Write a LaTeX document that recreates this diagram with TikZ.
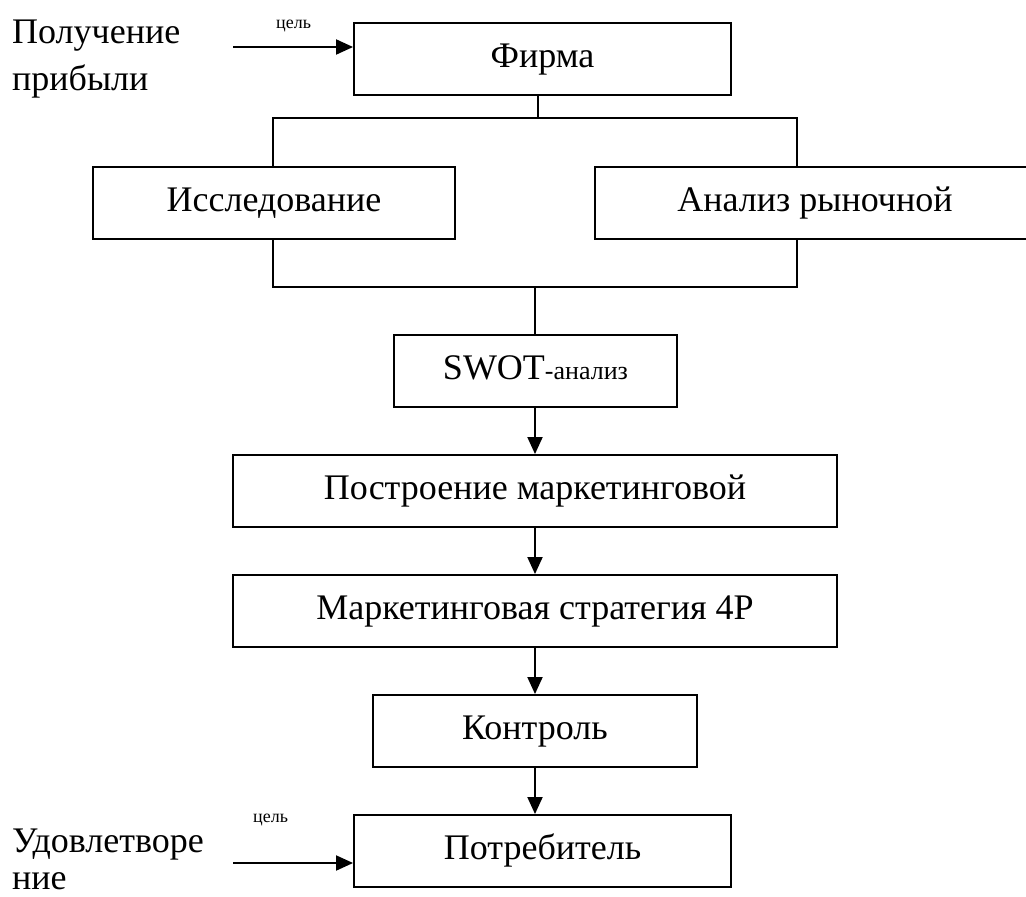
\documentclass[tikz,border=0pt]{standalone}
\usepackage{fontspec}
\setmainfont{Liberation Serif}
\usetikzlibrary{arrows.meta}
\begin{document}
\begin{tikzpicture}[x=1pt,y=-1pt,
  box/.style={draw,line width=1.9pt,minimum height=72pt,inner sep=0pt,
    text height=24pt,text depth=8pt,font=\fontsize{36}{46}\selectfont},
  conn/.style={line width=1.9pt},
  arr/.style={line width=1.9pt,-{Triangle[width=15pt,length=17pt]}},
  lbl/.style={font=\fontsize{36}{46}\selectfont,inner sep=0pt,anchor=base west},
  small/.style={font=\fontsize{18}{20}\selectfont,inner sep=0pt,anchor=base west}]
\useasboundingbox (0,0) rectangle (1026,897);

\node[box,minimum width=377pt] (firma) at (542.5,59) {Фирма};
\node[box,minimum width=362pt] (issl) at (274,203) {Исследование};
\node[box,minimum width=440pt] (anal) at (815,203) {Анализ рыночной};
\node[box,minimum width=283pt] (swot) at (535.5,371) {SWOT{\fontsize{26}{30}\selectfont-анализ}};
\node[box,minimum width=604pt] (postr) at (535,491) {Построение маркетинговой};
\node[box,minimum width=604pt] (strat) at (535,611) {Маркетинговая стратегия 4P};
\node[box,minimum width=324pt] (kontr) at (535,731) {Контроль};
\node[box,minimum width=377pt] (potr) at (542.5,851) {Потребитель};

\coordinate (b1) at (538,118);
\coordinate (tl) at (273,118);
\coordinate (tr) at (797,118);
\coordinate (bl) at (273,287);
\coordinate (br) at (797,287);
\coordinate (b2) at (535,287);
\coordinate (ax) at (535,0);

\draw[conn] (firma.south -| b1) -- (b1);
\draw[conn] (issl.north -| tl) -- (tl) -- (tr) -- (anal.north -| tr);
\draw[conn] (issl.south -| bl) -- (bl) -- (br) -- (anal.south -| br);
\draw[conn] (b2) -- (swot.north -| b2);

\draw[arr] (swot.south -| ax) -- (postr.north -| ax);
\draw[arr] (postr.south -| ax) -- (strat.north -| ax);
\draw[arr] (strat.south -| ax) -- (kontr.north -| ax);
\draw[arr] (kontr.south -| ax) -- (potr.north -| ax);

\coordinate (s1) at (233,47);
\coordinate (s2) at (233,863);
\draw[arr] (s1) -- (s1 -| firma.west);
\draw[arr] (s2) -- (s2 -| potr.west);
\node[small] (c1) at (276,28) {цель};
\node[small] (c2) at (253,822) {цель};

\node[lbl] (pol1) at (12,43) {Получение};
\node[lbl] (pol2) at (12,90) {прибыли};
\node[lbl] (ud1) at (12,852) {Удовлетворе};
\node[lbl] (ud2) at (12,889) {ние};
\end{tikzpicture}
\end{document}
